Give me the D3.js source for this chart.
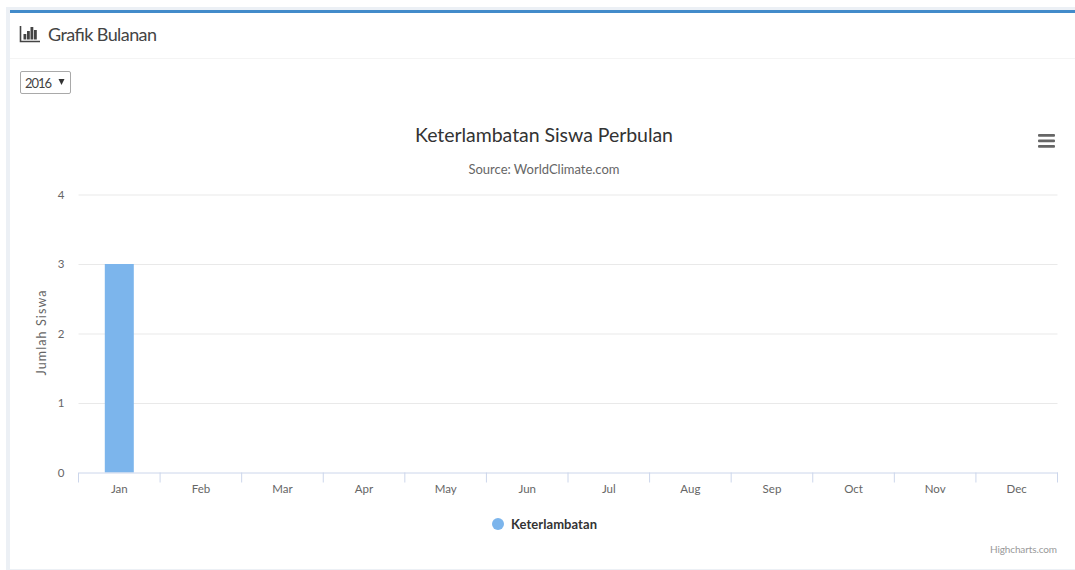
<!DOCTYPE html>
<html>
<head>
<meta charset="utf-8">
<script src="https://cdn.jsdelivr.net/npm/d3@7"></script>
<style>
html,body{margin:0;padding:0;background:#fff;overflow:hidden}
text{font-family:"Lato","Open Sans",sans-serif}
</style>
</head>
<body>
<svg id="page" width="1075" height="570"></svg>
<script>
//Chart values
var months = ["Jan","Feb","Mar","Apr","May","Jun","Jul","Aug","Sep","Oct","Nov","Dec"];
var keterlambatan = [3,0,0,0,0,0,0,0,0,0,0,0];
var yTicks = [0,1,2,3,4];

//Color Setting
var blue = "#7cb5ec",
  boxTop = "#428bca",
  grid = "#e9e9e9",
  axisLine = "#ccd6eb",
  label = "#666666",
  dark = "#444444";

var svg = d3.select("#page");

//Box around the chart
svg.append("rect").attr("x",6).attr("y",7).attr("width",1069).attr("height",563).attr("fill","#ecf0f5");
svg.append("rect").attr("x",10).attr("y",10).attr("width",1065).attr("height",559).attr("fill","#fff");
svg.append("rect").attr("x",10).attr("y",10).attr("width",1065).attr("height",3).attr("fill",boxTop);
svg.append("line").attr("x1",10).attr("x2",1075).attr("y1",58.5).attr("y2",58.5).attr("stroke","#f4f4f4");

//Header icon
var icon = svg.append("g").attr("transform","translate(20,26)");
icon.append("path").attr("d","M0.5,0V15.5H20").attr("fill","none").attr("stroke",dark).attr("stroke-width",1.6);
[[3.5,8],[7,5],[10.5,1],[14,4]].forEach(function(b){
  icon.append("rect").attr("x",b[0]).attr("y",b[1]).attr("width",2.8).attr("height",13.5-b[1]).attr("fill",dark);
});
svg.append("text").attr("x",48).attr("y",41).attr("font-size",18).attr("fill",dark).attr("textLength",109).text("Grafik Bulanan");

//Year select
svg.append("rect").attr("x",20.5).attr("y",71.5).attr("width",50).attr("height",22).attr("rx",1.5)
  .attr("fill","#fff").attr("stroke","#a9a9a9");
svg.append("text").attr("x",25).attr("y",88).attr("font-size",13).attr("fill",dark).attr("textLength",27).text("2016");
svg.append("path").attr("d","M58.5,79H64.5L61.5,85Z").attr("fill","#333");

//Titles
svg.append("text").attr("x",544).attr("y",142).attr("text-anchor","middle").attr("font-size",19.5)
  .attr("fill","#333").attr("textLength",258).text("Keterlambatan Siswa Perbulan");
svg.append("text").attr("x",544).attr("y",174).attr("text-anchor","middle").attr("font-size",13)
  .attr("fill",label).attr("textLength",151).text("Source: WorldClimate.com");

//Menu button
[134,139.5,145].forEach(function(y){
  svg.append("rect").attr("x",1038).attr("y",y).attr("width",17).attr("height",2.8).attr("rx",1).attr("fill","#666");
});

//X and Y scale setting
var xscale = d3.scaleBand().domain(months).range([78.5,1057.5]);
var yscale = d3.scaleLinear().domain([0,4]).range([472.5,194.5]);

//Gridlines and y labels
var yaxis = svg.append("g").attr("transform","translate(78.5,0)")
  .call(d3.axisLeft(yscale).tickValues(yTicks).tickFormat(d3.format("d")).tickSize(-979).tickPadding(14));
yaxis.select(".domain").remove();
yaxis.selectAll("line").attr("stroke",grid).filter(function(d){return d==0}).remove();
yaxis.selectAll("text").attr("fill",label).attr("font-size",11.5);

//Bars
svg.selectAll(".bar").data(keterlambatan).enter().append("rect")
  .attr("class","bar")
  .attr("x",function(d,i){return xscale(months[i])+xscale.bandwidth()/2-14.5})
  .attr("width",29)
  .attr("y",function(d){return yscale(d)})
  .attr("height",function(d){return yscale(0)-yscale(d)})
  .attr("fill",blue);

//X axis, ticks sit between the months
var xaxis = svg.append("g").attr("transform","translate(0,472.5)")
  .call(d3.axisBottom(xscale).tickSize(0).tickPadding(12));
xaxis.select(".domain").attr("stroke",axisLine);
xaxis.selectAll("text").attr("fill",label).attr("font-size",11.5);
xaxis.selectAll(".edge").data(months.concat(["end"])).enter().append("line")
  .attr("class","edge")
  .attr("x1",function(d){return d=="end"?xscale.range()[1]:xscale(d)})
  .attr("x2",function(d){return d=="end"?xscale.range()[1]:xscale(d)})
  .attr("y1",0).attr("y2",10).attr("stroke",axisLine);

//Y title
svg.append("text").attr("transform","translate(46,333) rotate(-90)").attr("text-anchor","middle")
  .attr("font-size",12.5).attr("fill",label).attr("textLength",85).text("Jumlah Siswa");

//Legend
svg.append("circle").attr("cx",498).attr("cy",524).attr("r",6).attr("fill",blue);
svg.append("text").attr("x",511).attr("y",529).attr("font-size",13).attr("font-weight","bold")
  .attr("fill","#333").attr("textLength",86).text("Keterlambatan");

//Credit
svg.append("text").attr("x",1057).attr("y",553).attr("text-anchor","end").attr("font-size",10)
  .attr("fill","#999").attr("textLength",67).text("Highcharts.com");
</script>
</body>
</html>
